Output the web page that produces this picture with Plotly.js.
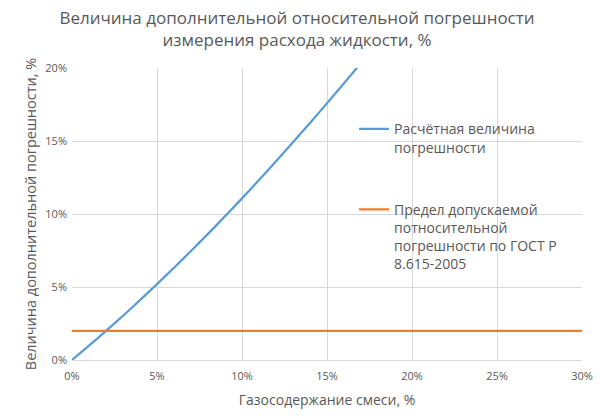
<!DOCTYPE html>
<html>
<head>
<meta charset="utf-8">
<script src="https://cdn.plot.ly/plotly-3.0.1.min.js"></script>
<style>html,body{margin:0;padding:0;background:#fff;}#chart{width:600px;height:416px;}</style>
</head>
<body>
<div id="chart"></div>
<script>
// Gas content of the mixture (fraction)
var gasContent = [0, 0.01, 0.02, 0.03, 0.04, 0.05, 0.06, 0.07, 0.08, 0.09, 0.10, 0.11, 0.12, 0.13, 0.14, 0.15, 0.16, 0.17];
// Calculated error (fraction)
var calcError = [0, 0.0098, 0.0199, 0.0303, 0.0410, 0.0520, 0.0632, 0.0747, 0.0864, 0.0984, 0.1107, 0.1233, 0.1361, 0.1492, 0.1624, 0.1758, 0.1895, 0.2034];
// GOST limit
var limitX = [0, 0.30];
var limitY = [0.02, 0.02];

var seriesNames = [
  "Расчётная величина<br>погрешности",
  "Предел допускаемой<br>потносительной<br>погрешности по ГОСТ Р<br>8.615-2005"
];
var xTicks = [0, 0.05, 0.10, 0.15, 0.20, 0.25, 0.30];
var yTicks = [0, 0.05, 0.10, 0.15, 0.20];

var fontFam = "'Open Sans', 'Noto Sans', sans-serif";
var grey = "#595959";

var traces = [
  {x: gasContent, y: calcError, mode: "lines", name: seriesNames[0], legendgroup: "a",
   line: {color: "#5b9bd5", width: 2.25, shape: "spline", smoothing: 0.6}},
  {x: limitX, y: limitY, mode: "lines", name: seriesNames[1], legendgroup: "b",
   line: {color: "#ed7d31", width: 2.25}}
];

var layout = {
  width: 600, height: 416,
  margin: {l: 72, r: 18, t: 68, b: 56},
  paper_bgcolor: "#fff", plot_bgcolor: "#fff",
  font: {family: fontFam, color: grey},
  title: {text: "Величина дополнительной относительной погрешности<br>измерения расхода жидкости, %",
          font: {size: 17, color: grey, family: fontFam}, x: 0.495, xanchor: "center",
          yref: "container", y: 0.942, yanchor: "middle"},
  xaxis: {range: [0, 0.30], tickvals: xTicks, tickformat: ".0%", showgrid: true, gridcolor: "#d9d9d9",
          zeroline: false, showline: true, linecolor: "#d9d9d9", ticks: "", tickfont: {size: 11, color: grey},
          ticklabelstandoff: 6,
          title: {text: "Газосодержание смеси, %", font: {size: 14, color: grey}, standoff: 12}},
  yaxis: {range: [0, 0.20], tickvals: yTicks, tickformat: ".0%", showgrid: true, gridcolor: "#d9d9d9",
          zeroline: false, showline: false, ticks: "", tickfont: {size: 11, color: grey},
          ticklabelstandoff: 4,
          title: {text: "Величина дополнительной погрешности, %", font: {size: 14.5, color: grey}, standoff: 5}},
  showlegend: true,
  legend: {x: 0.553, y: 0.845, xanchor: "left", yanchor: "top", bgcolor: "rgba(0,0,0,0)",
           font: {size: 14, color: grey}, valign: "top", tracegroupgap: 41, itemwidth: 30}
};

Plotly.newPlot("chart", traces, layout, {displayModeBar: false, staticPlot: true});
</script>
</body>
</html>
